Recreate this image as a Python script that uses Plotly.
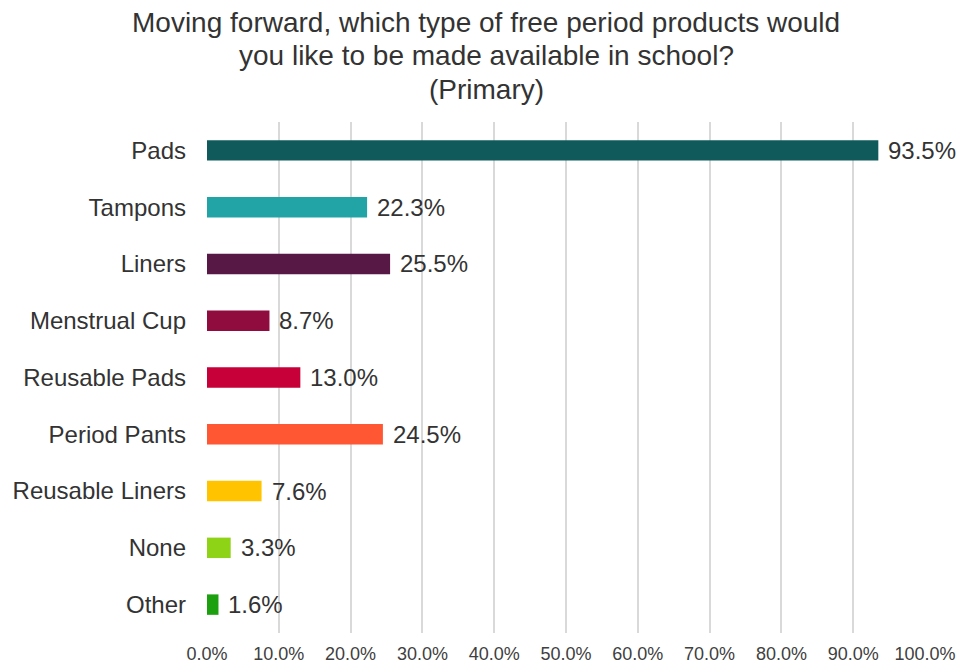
import plotly.graph_objects as go

# Survey responses (share of respondents, %)
categories = ["Pads", "Tampons", "Liners", "Menstrual Cup", "Reusable Pads",
              "Period Pants", "Reusable Liners", "None", "Other"]
values = [93.5, 22.3, 25.5, 8.7, 13.0, 24.5, 7.6, 3.3, 1.6]
colors = ["#105A5C", "#22A4A6", "#581845", "#900C3F", "#C70039",
          "#FF5733", "#FFC300", "#8FD317", "#1DA010"]
tick_vals = [0, 10, 20, 30, 40, 50, 60, 70, 80, 90, 100]
tick_text = [f"{v:.1f}%" for v in tick_vals]
title_lines = ["Moving forward, which type of free period products would",
               "you like to be made available in school?",
               "(Primary)"]

font_family = "Liberation Sans, Arial, sans-serif"
text_color = "#333333"

fig = go.Figure()
fig.add_trace(go.Bar(
    x=values,
    y=categories,
    orientation="h",
    marker=dict(color=colors, line=dict(width=0)),
    width=0.36,
    hoverinfo="x+y",
))

# value labels just past the bar ends
for cat, val in zip(categories, values):
    fig.add_annotation(
        x=val, y=cat, xref="x", yref="y",
        text=f"{val:.1f}%", showarrow=False,
        xanchor="left", yanchor="middle", xshift=8,
        font=dict(size=24, color=text_color, family=font_family),
    )

# three-line heading, one annotation per line for tight spacing
for i, line in enumerate(title_lines):
    fig.add_annotation(
        x=0.389, xref="paper", y=1.0, yref="paper",
        yshift=100 - i * 33.5,
        text=line, showarrow=False,
        xanchor="center", yanchor="middle",
        font=dict(size=28, color=text_color, family=font_family),
    )

fig.update_layout(
    width=957, height=666,
    paper_bgcolor="white", plot_bgcolor="white",
    margin=dict(l=207, r=32, t=122, b=33),
    font=dict(family=font_family, color=text_color),
    showlegend=False,
    xaxis=dict(
        range=[0, 100],
        tickvals=tick_vals, ticktext=tick_text,
        tickfont=dict(size=18, color="#404040"),
        showgrid=True, gridcolor="#D9D9D9", gridwidth=1.5,
        zeroline=False, showline=False, ticks="",
        ticklabelstandoff=8, ticklabeloverflow="allow",
        automargin=False,
        fixedrange=True,
    ),
    yaxis=dict(
        categoryorder="array", categoryarray=categories,
        autorange="reversed",
        tickfont=dict(size=24, color=text_color),
        showgrid=False, zeroline=False, showline=False, ticks="",
        ticklabelstandoff=20,
        automargin=False,
        fixedrange=True,
    ),
)

fig.write_html("out.html")
